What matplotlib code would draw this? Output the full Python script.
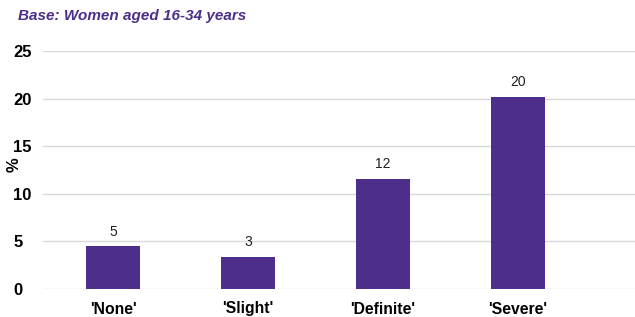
import matplotlib
matplotlib.use("Agg")
import matplotlib.pyplot as plt

# ----------------------------------------------------------------------
# DATA
# ----------------------------------------------------------------------
categories = ["'None'", "'Slight'", "'Definite'", "'Severe'"]
values = [4.5, 3.4, 11.55, 20.2]
value_labels = ["5", "3", "12", "20"]
y_ticks = [0, 5, 10, 15, 20, 25]

PURPLE = "#4D2F8B"
plt.rcParams['font.family'] = ['Liberation Sans', 'DejaVu Sans']

fig = plt.figure(figsize=(6.35, 3.17), dpi=100)
ax = fig.add_axes([43 / 635, 28 / 317, (635 - 43) / 635, (289 - 51) / 317])

x = list(range(len(categories)))
ax.bar(x, values, width=0.4, color=PURPLE, zorder=3)
for xi, v, lab in zip(x, values, value_labels):
    ax.text(xi, v + 0.8, lab, ha='center', va='bottom', fontsize=10, color='#222222')

ax.set_xlim(-0.52, 3.87)
ax.set_ylim(0, 25)
ax.set_yticks(y_ticks)
ax.set_yticklabels([str(t) for t in y_ticks], fontsize=12, fontweight='bold')
ax.set_xticks(x)
ax.set_xticklabels(categories, fontsize=11.3, fontweight='bold')
ax.tick_params(axis='both', length=0)
ax.tick_params(axis='y', pad=21.5)
ax.tick_params(axis='x', pad=9)
for lab in ax.get_yticklabels():
    lab.set_horizontalalignment('left')

ax.grid(axis='y', color='#D9D9D9', linewidth=1, zorder=0)
for s in ax.spines.values():
    s.set_visible(False)

fig.text(14 / 635, 1 - 165 / 317, "%", fontsize=12, fontweight='bold', rotation=90,
         ha='center', va='center')

fig.text(18 / 635, 1 - 16 / 317, "Base: Women aged 16-34 years", fontsize=11,
         fontweight='bold', fontstyle='italic', color=PURPLE, va='center', ha='left')

plt.savefig("out.png", dpi=100)
